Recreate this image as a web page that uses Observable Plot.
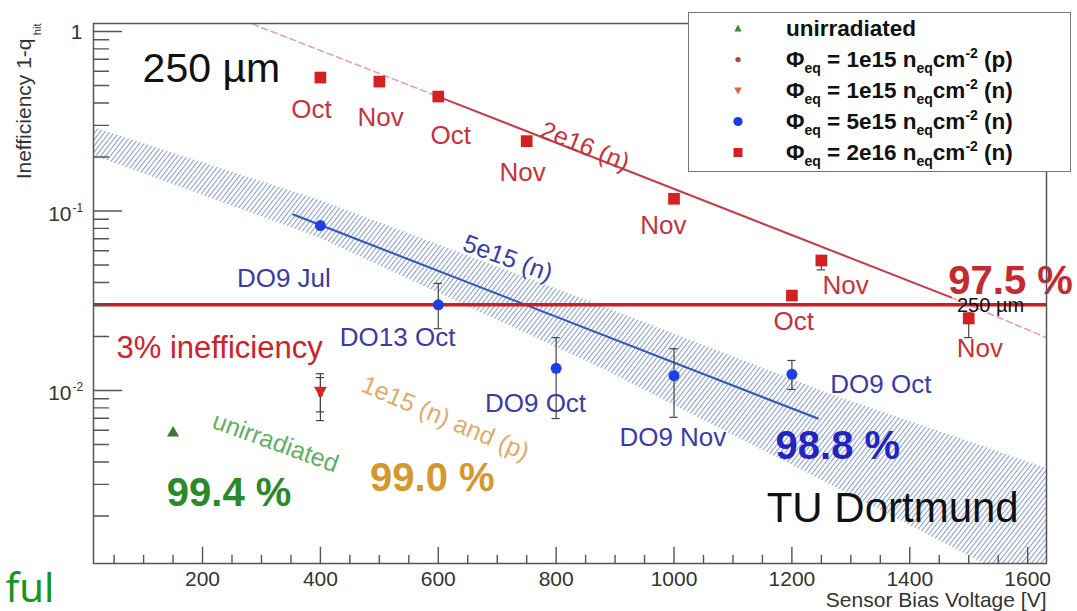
<!DOCTYPE html>
<html>
<head>
<meta charset="utf-8">
<script src="https://cdn.jsdelivr.net/npm/d3@7"></script>
<script src="https://cdn.jsdelivr.net/npm/@observablehq/plot@0.6"></script>
<style>
  body { margin: 0; background: #fff; }
  #wrap { position: relative; width: 1077px; height: 611px; overflow: hidden;
          font-family: "Liberation Sans", Arial, Helvetica, sans-serif; }
  #legend { position: absolute; left: 688px; top: 12px; width: 381px; height: 158px;
            border: 1.5px solid #777; background: #fff; }
  .row { position: absolute; left: 97px; height: 31px; line-height: 31px;
         font-weight: bold; font-size: 22.5px; color: #111; white-space: nowrap; }
  .row sub { font-size: 14px; position: relative; top: 6px; vertical-align: baseline; }
  .row sup { font-size: 14px; position: relative; top: -9px; vertical-align: baseline; }
  .mk { position: absolute; left: 39px; width: 20px; height: 31px; }
</style>
</head>
<body>
<div id="wrap"><div id="legend"></div></div>
<script>
// ---------------- data ----------------
// Φeq = 2e16 neq cm^-2 (n) : bias voltage [V], inefficiency
const v2e16 = [400, 500, 600, 750, 1000, 1200, 1250, 1500];
const q2e16 = [0.554, 0.526, 0.434, 0.245, 0.117, 0.0338, 0.053, 0.0252];
// Φeq = 5e15 neq cm^-2 (n)
const v5e15 = [400, 600, 800, 1000, 1200];
const q5e15 = [0.083, 0.030, 0.0133, 0.0121, 0.0123];
// Φeq = 1e15 (n) and (p), unirradiated
const v1e15n = [400], q1e15n = [0.0100];
const v1e15p = [400], q1e15p = [0.0095];
const vUnirr = [150], qUnirr = [0.0058];
// error bars
const errV  = [600, 800, 1000, 1200, 400, 400, 1250, 1500];
const errLo = [0.0221, 0.00698, 0.00709, 0.01014, 0.0068, 0.0076, 0.047, 0.0197];
const errHi = [0.0395, 0.0197, 0.0171, 0.0147, 0.0124, 0.0118, 0.055, 0.027];
// fits (end points)
const redFitDashA = {V: [285, 600], q: [1.10, 0.434]};
const redFitSolid = {V: [600, 1470], q: [0.434, 0.033]};
const redFitDashB = {V: [1470, 1632], q: [0.033, 0.0197]};
const blueFit     = {V: [354, 1244], q: [0.0956, 0.00698]};
// hatched uncertainty band
const bandV  = [15, 400, 875, 1271, 1525, 1632];
const bandHi = [0.292, 0.1144, 0.0298, 0.00938, 0.00488, 0.00368];
const bandLo = [0.204, 0.0703, 0.0134, 0.00292, 0.00109, 0.00069];
// threshold
const threshold = [0.03];
// point labels
const redLabText = ["Oct", "Nov", "Oct", "Nov", "Nov", "Oct", "Nov", "Nov"];
const redLabV    = [385, 502, 621, 743, 982, 1203, 1291, 1519];
const redLabQ    = [0.368, 0.332, 0.263, 0.164, 0.083, 0.0242, 0.0385, 0.01714];
const blueLabText = ["DO9 Jul", "DO13 Oct", "DO9 Oct", "DO9 Nov", "DO9 Oct"];
const blueLabV    = [338, 531, 765, 998, 1351];
const blueLabQ    = [0.0421, 0.0197, 0.00847, 0.00547, 0.0108];
// annotations
const annotations = [
  {t: "250 µm", V: 215, q: 0.622, c: "#111", s: 41, w: "normal", r: 0},
  {t: "2e16 (n)", V: 849, q: 0.229, c: "#c8323c", s: 25, w: "normal", r: 22},
  {t: "5e15 (n)", V: 718, q: 0.0544, c: "#3b3ba8", s: 25, w: "normal", r: 20},
  {t: "3% inefficiency", V: 229, q: 0.01714, c: "#d0202a", s: 31, w: "normal", r: 0},
  {t: "1e15 (n) and (p)", V: 612, q: 0.00698, c: "#e2aa68", s: 25, w: "normal", r: 23},
  {t: "unirradiated", V: 324, q: 0.00513, c: "#62b062", s: 25, w: "normal", r: 20},
  {t: "99.4 %", V: 245, q: 0.00267, c: "#2a8a2a", s: 40, w: "bold", r: 0},
  {t: "99.0 %", V: 590, q: 0.00323, c: "#d6982e", s: 40, w: "bold", r: 0},
  {t: "98.8 %", V: 1278, q: 0.00488, c: "#2424c0", s: 40, w: "bold", r: 0},
  {t: "97.5 %", V: 1571, q: 0.0405, c: "#c42a30", s: 40, w: "bold", r: 0},
  {t: "250 µm", V: 1537, q: 0.0298, c: "#111", s: 20, w: "normal", r: 0},
  {t: "TU Dortmund", V: 1371, q: 0.00221, c: "#111", s: 42, w: "normal", r: 0}
];
// axis ticks
const xMajor = [200, 400, 600, 800, 1000, 1200, 1400, 1600];
const xMinor = [50, 100, 150, 250, 300, 350, 450, 500, 550, 650, 700, 750, 850, 900, 950,
                1050, 1100, 1150, 1250, 1300, 1350, 1450, 1500, 1550];
const yMajor = [1, 0.1, 0.01];
const yDecade = [0.1, 0.01];
const yDecadeExp = ["-1", "-2"];
const yMinor = [2, 3, 4, 5, 6, 7, 8, 9].flatMap(k => [k * 0.001, k * 0.01, k * 0.1]);
// legend
const legendItems = [
  {html: "unirradiated", sym: "tri", c: "#3c8a3c"},
  {html: "Φ<sub>eq</sub> = 1e15 n<sub>eq</sub>cm<sup>-2</sup> (p)", sym: "dot", c: "#c03838"},
  {html: "Φ<sub>eq</sub> = 1e15 n<sub>eq</sub>cm<sup>-2</sup> (n)", sym: "tridown", c: "#d8683a"},
  {html: "Φ<sub>eq</sub> = 5e15 n<sub>eq</sub>cm<sup>-2</sup> (n)", sym: "bigdot", c: "#1a3de8"},
  {html: "Φ<sub>eq</sub> = 2e16 n<sub>eq</sub>cm<sup>-2</sup> (n)", sym: "square", c: "#d42020"}
];

// ---------------- helpers ----------------
const zip = (V, q) => V.map((v, i) => ({V: v, q: q[i]}));
const tickShape = {draw(ctx, l) { ctx.moveTo(0, 0); ctx.lineTo(0, -l); }};
const axisColor = "#555";
const errs = errV.map((v, i) => ({V: v, lo: errLo[i], hi: errHi[i]}));
const caps = errs.flatMap(d => [{V: d.V, q: d.lo}, {V: d.V, q: d.hi}]);
const band = bandV.map((v, i) => ({V: v, lo: bandLo[i], hi: bandHi[i]}));

const svg = Plot.plot({
  width: 1077, height: 611,
  marginLeft: 93, marginRight: 31, marginTop: 23, marginBottom: 48,
  style: {fontFamily: '"Liberation Sans", Arial, Helvetica, sans-serif', background: "transparent", overflow: "visible"},
  x: {domain: [15, 1632], axis: null},
  y: {type: "log", domain: [0.001087, 1.108], axis: null},
  marks: [
    Plot.areaY(band, {x: "V", y1: "lo", y2: "hi", fill: "url(#hatch)", clip: true}),
    Plot.line(zip(redFitDashA.V, redFitDashA.q), {x: "V", y: "q", stroke: "#e3a3b3", strokeWidth: 1.6, strokeDasharray: "6,4", clip: true}),
    Plot.line(zip(redFitDashB.V, redFitDashB.q), {x: "V", y: "q", stroke: "#e3a3b3", strokeWidth: 1.6, strokeDasharray: "6,4", clip: true}),
    Plot.line(zip(redFitSolid.V, redFitSolid.q), {x: "V", y: "q", stroke: "#c83846", strokeWidth: 2}),
    Plot.line(zip(blueFit.V, blueFit.q), {x: "V", y: "q", stroke: "#2f56b8", strokeWidth: 2}),
    Plot.ruleY(threshold, {stroke: "#cc1f24", strokeWidth: 3.5}),
    Plot.ruleX(errs, {x: "V", y1: "lo", y2: "hi", stroke: "#444", strokeWidth: 1.2}),
    Plot.ruleY(caps, {y: "q", x1: d => d.V - 7, x2: d => d.V + 7, stroke: "#444", strokeWidth: 1.2}),
    Plot.dot(zip(vUnirr, qUnirr), {x: "V", y: "q", symbol: "triangle", r: 4.5, fill: "#3c7a30"}),
    Plot.dot(zip(v1e15p, q1e15p), {x: "V", y: "q", r: 2.5, fill: "#c03838"}),
    Plot.dot(zip(v1e15n, q1e15n), {x: "V", y: "q", symbol: "triangle", rotate: 180, r: 4.8, fill: "#dd2222"}),
    Plot.dot(zip(v5e15, q5e15), {x: "V", y: "q", r: 5.5, fill: "#1f3fe6"}),
    Plot.dot(zip(v2e16, q2e16), {x: "V", y: "q", symbol: "square", r: 6.6, fill: "#d42020"}),
    // point labels
    Plot.text(redLabText, {x: (d, i) => redLabV[i], y: (d, i) => redLabQ[i], text: d => d, fill: "#c8323c", fontSize: 26}),
    Plot.text(blueLabText, {x: (d, i) => blueLabV[i], y: (d, i) => blueLabQ[i], text: d => d, fill: "#3b3ba8", fontSize: 26}),
    // annotations
    ...annotations.map(a => Plot.text([a], {x: "V", y: "q", text: "t", fill: a.c, fontSize: a.s, fontWeight: a.w, rotate: a.r})),
    // frame
    Plot.frame({stroke: axisColor, strokeWidth: 1.5}),
    // ticks
    Plot.vector(yMajor, {y: d => d, frameAnchor: "left", rotate: 90, length: 28, anchor: "start", shape: tickShape, stroke: axisColor, strokeWidth: 1.4}),
    Plot.vector(yMinor, {y: d => d, frameAnchor: "left", rotate: 90, length: 15, anchor: "start", shape: tickShape, stroke: axisColor, strokeWidth: 1.4}),
    Plot.vector(xMajor, {x: d => d, frameAnchor: "bottom", rotate: 0, length: 16, anchor: "start", shape: tickShape, stroke: axisColor, strokeWidth: 1.4}),
    Plot.vector(xMinor, {x: d => d, frameAnchor: "bottom", rotate: 0, length: 8, anchor: "start", shape: tickShape, stroke: axisColor, strokeWidth: 1.4}),
    // tick labels
    Plot.text(xMajor, {x: d => d, frameAnchor: "bottom", text: d => `${d}`, lineAnchor: "top", dy: 8, fontSize: 21, fill: "#333"}),
    Plot.text([1], {y: d => d, frameAnchor: "left", text: () => "1", textAnchor: "end", dx: -11, dy: 1, fontSize: 21, fill: "#333"}),
    Plot.text(yDecade, {y: d => d, frameAnchor: "left", text: () => "10", textAnchor: "end", dx: -22, dy: 3, fontSize: 21, fill: "#333"}),
    Plot.text(yDecade, {y: d => d, frameAnchor: "left", text: (d, i) => yDecadeExp[i], textAnchor: "start", dx: -21, dy: -3, fontSize: 12, fill: "#333"}),
    // axis titles
    Plot.text(["Inefficiency 1-q"], {frameAnchor: "top-left", text: d => d, rotate: -90, textAnchor: "end", lineAnchor: "bottom", dx: -63, dy: 15, fontSize: 21, fill: "#333"}),
    Plot.text(["hit"], {frameAnchor: "top-left", text: d => d, rotate: -90, textAnchor: "end", lineAnchor: "bottom", dx: -53, dy: 0, fontSize: 11, fill: "#333"}),
    Plot.text(["Sensor Bias Voltage [V]"], {frameAnchor: "bottom-right", text: d => d, textAnchor: "end", lineAnchor: "bottom", dx: 0, dy: 43, fontSize: 21, fill: "#333"}),
    // slide fragment at bottom-left
    Plot.text(["ful"], {frameAnchor: "bottom-left", text: d => d, textAnchor: "start", lineAnchor: "bottom", dx: -88, dy: 38, fontSize: 40, fill: "#15961f", fontFamily: "'Noto Sans', 'Open Sans', sans-serif"})
  ]
});

d3.select(svg).insert("defs", ":first-child").html(
  `<pattern id="hatch" patternUnits="userSpaceOnUse" width="3.8" height="10" patternTransform="rotate(38)">
     <line x1="0.6" y1="-1" x2="0.6" y2="11" stroke="#6f88bd" stroke-width="0.9"/>
   </pattern>`);

const wrap = document.getElementById("wrap");
wrap.insertBefore(svg, wrap.firstChild);

// legend
const leg = d3.select("#legend");
legendItems.forEach((it, i) => {
  const top = 31 * i;
  leg.append("div").attr("class", "row").style("top", `${top}px`).html(it.html);
  const m = leg.append("svg").attr("class", "mk").style("top", `${top}px`)
    .attr("width", 20).attr("height", 31).attr("viewBox", "-10 -15.5 20 31");
  if (it.sym === "tri") m.append("path").attr("d", "M0,-4 L3.6,3 L-3.6,3Z").attr("fill", it.c);
  if (it.sym === "tridown") m.append("path").attr("d", "M0,4 L3.8,-3 L-3.8,-3Z").attr("fill", it.c);
  if (it.sym === "dot") m.append("circle").attr("r", 2.6).attr("fill", it.c);
  if (it.sym === "bigdot") m.append("circle").attr("r", 4.6).attr("fill", it.c);
  if (it.sym === "square") m.append("rect").attr("x", -4.5).attr("y", -4.5).attr("width", 9).attr("height", 9).attr("fill", it.c);
});
</script>
</body>
</html>
